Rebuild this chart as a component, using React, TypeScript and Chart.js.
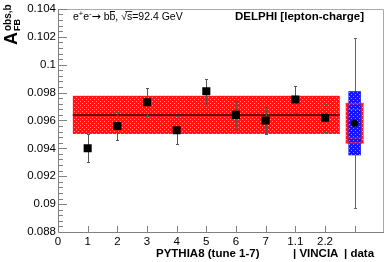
import React, { useEffect, useRef } from "react";
import { Chart, registerables } from "chart.js";
Chart.register(...registerables);

// ---- data ----
const mcPositions = [1, 2, 3, 4, 5, 6, 7, 8, 9];
const mcValues = [0.094, 0.0956, 0.0973, 0.0953, 0.0981, 0.0964, 0.096, 0.0975, 0.0962];
const mcErrors = [0.001, 0.001, 0.001, 0.001, 0.0009, 0.001, 0.001, 0.001, 0.001];
const xTickLabels = ["0", "1", "2", "3", "4", "5", "6", "7", "1.1", "2.2", "", ""];
const bandRange = [0.5, 9.5];
const bandCenter = 0.0964;
const bandHalf = 0.00137;
const dataPosition = 10;
const dataValue = 0.0958;
const dataTotalErr = 0.0061;
const dataBlueErr = 0.0023;
const dataRedErr = 0.00146;
const dataBlueHalfWidth = 0.21;
const dataRedHalfWidth = 0.3;
const yMin = 0.088;
const yMax = 0.104;
const yStep = 0.002;
const yMinorStep = 0.0004;
const xMin = 0;
const xMax = 11;

const FONT = '"Liberation Sans", Arial, Helvetica, sans-serif';

function makePattern(base: string, dot: string, kind: "red" | "blue") {
  const c = document.createElement("canvas");
  c.width = 4;
  c.height = 4;
  const g = c.getContext("2d")!;
  g.fillStyle = base;
  g.fillRect(0, 0, 4, 4);
  g.fillStyle = dot;
  if (kind === "red") {
    g.fillRect(0, 1, 1, 1);
    g.fillRect(2, 3, 1, 1);
  } else {
    g.fillRect(1, 0, 1, 1);
    g.fillRect(3, 2, 1, 1);
  }
  const ctx = document.createElement("canvas").getContext("2d")!;
  return ctx.createPattern(c, "repeat")!;
}

const decor = {
  id: "decor",
  beforeDatasetsDraw(chart: any) {
    const { ctx, scales } = chart;
    const x = scales.x;
    const y = scales.y;
    const redPat = makePattern("#ff1414", "rgba(255,150,150,1)", "red");
    const bluePat = makePattern("#1414ff", "rgba(140,140,255,1)", "blue");
    ctx.save();
    // data total error bar
    const dx = Math.round(x.getPixelForValue(dataPosition)) + 0.5;
    ctx.strokeStyle = "#666";
    ctx.lineWidth = 1;
    ctx.beginPath();
    const dt = y.getPixelForValue(dataValue + dataTotalErr);
    const db = y.getPixelForValue(dataValue - dataTotalErr);
    ctx.moveTo(dx, dt);
    ctx.lineTo(dx, db);
    ctx.moveTo(dx - 1.5, Math.round(dt) + 0.5);
    ctx.lineTo(dx + 1.5, Math.round(dt) + 0.5);
    ctx.moveTo(dx - 1.5, Math.round(db) + 0.5);
    ctx.lineTo(dx + 1.5, Math.round(db) + 0.5);
    ctx.stroke();

    // data red (inner) box
    const rx1 = x.getPixelForValue(dataPosition - dataRedHalfWidth);
    const rx2 = x.getPixelForValue(dataPosition + dataRedHalfWidth);
    const ry1 = y.getPixelForValue(dataValue + dataRedErr);
    const ry2 = y.getPixelForValue(dataValue - dataRedErr);
    ctx.fillStyle = redPat;
    ctx.fillRect(rx1, ry1, rx2 - rx1, ry2 - ry1);
    // data blue box
    const bx1 = x.getPixelForValue(dataPosition - dataBlueHalfWidth);
    const bx2 = x.getPixelForValue(dataPosition + dataBlueHalfWidth);
    const by1 = y.getPixelForValue(dataValue + dataBlueErr);
    const by2 = y.getPixelForValue(dataValue - dataBlueErr);
    ctx.fillStyle = bluePat;
    ctx.fillRect(bx1, by1, bx2 - bx1, by2 - by1);
    ctx.fillStyle = "rgba(255,40,40,0.7)";
    ctx.fillRect(rx1, ry1, rx2 - rx1, 1.5);
    ctx.fillRect(rx1, ry2 - 1.5, rx2 - rx1, 1.5);
    ctx.fillRect(bx1, y.getPixelForValue(dataValue + dataRedErr * 0.7), bx2 - bx1, 1);
    ctx.fillRect(bx1, y.getPixelForValue(dataValue - dataRedErr * 0.7), bx2 - bx1, 1);

    // MC band
    const mx1 = x.getPixelForValue(bandRange[0]);
    const mx2 = x.getPixelForValue(bandRange[1]);
    const my1 = y.getPixelForValue(bandCenter + bandHalf);
    const my2 = y.getPixelForValue(bandCenter - bandHalf);
    ctx.fillStyle = redPat;
    ctx.fillRect(mx1, my1, mx2 - mx1, my2 - my1);
    ctx.strokeStyle = "rgba(70,0,0,0.75)";
    ctx.lineWidth = 2;
    ctx.beginPath();
    const cy = Math.round(y.getPixelForValue(bandCenter));
    ctx.moveTo(mx1, cy);
    ctx.lineTo(mx2, cy);
    ctx.stroke();

    // MC error bars
    ctx.strokeStyle = "#555";
    ctx.lineWidth = 1;
    ctx.beginPath();
    mcPositions.forEach((p, i) => {
      const px = Math.round(x.getPixelForValue(p)) + 0.5;
      const t = Math.round(y.getPixelForValue(mcValues[i] + mcErrors[i])) + 0.5;
      const b = Math.round(y.getPixelForValue(mcValues[i] - mcErrors[i])) + 0.5;
      ctx.moveTo(px, t);
      ctx.lineTo(px, b);
      ctx.moveTo(px - 1.5, t);
      ctx.lineTo(px + 1.5, t);
      ctx.moveTo(px - 1.5, b);
      ctx.lineTo(px + 1.5, b);
    });
    ctx.stroke();
    ctx.restore();
  },
  afterDatasetsDraw(chart: any) {
    const { ctx, chartArea: a, scales } = chart;
    const x = scales.x;
    const y = scales.y;
    ctx.save();
    // frame
    ctx.strokeStyle = "#aaa";
    ctx.lineWidth = 1;
    ctx.beginPath();
    ctx.moveTo(Math.round(a.left) + 0.5, Math.round(a.top) + 0.5);
    ctx.lineTo(Math.round(a.right) - 0.5, Math.round(a.top) + 0.5);
    ctx.lineTo(Math.round(a.right) - 0.5, Math.round(a.bottom) + 0.5);
    ctx.stroke();
    // axes
    ctx.strokeStyle = "#808080";
    ctx.beginPath();
    ctx.moveTo(Math.round(a.left) + 0.5, Math.round(a.top));
    ctx.lineTo(Math.round(a.left) + 0.5, Math.round(a.bottom) + 0.5);
    ctx.lineTo(Math.round(a.right), Math.round(a.bottom) + 0.5);
    // y ticks (inward)
    const nMinor = Math.round((yMax - yMin) / yMinorStep);
    for (let i = 0; i <= nMinor; i++) {
      const v = yMin + i * yMinorStep;
      const major = i % Math.round(yStep / yMinorStep) === 0;
      const py = Math.round(y.getPixelForValue(v)) + 0.5;
      ctx.moveTo(Math.round(a.left) + 1, py);
      ctx.lineTo(Math.round(a.left) + 1 + (major ? 8 : 4), py);
    }
    // x ticks (inward)
    for (let v = xMin + 1; v < xMax; v++) {
      const px = Math.round(x.getPixelForValue(v)) + 0.5;
      ctx.moveTo(px, Math.round(a.bottom));
      ctx.lineTo(px, Math.round(a.bottom) - 6);
    }
    ctx.stroke();

    // top-left label
    ctx.fillStyle = "#000";
    ctx.textBaseline = "alphabetic";
    ctx.textAlign = "left";
    const base = 20;
    let cx = 73;
    const big = `10.5px ${FONT}`;
    const small = `7.5px ${FONT}`;
    const put = (s: string, font: string, dy = 0) => {
      ctx.font = font;
      ctx.fillText(s, cx, base + dy);
      const w = ctx.measureText(s).width;
      cx += w;
      return w;
    };
    put("e", big);
    put("+", small, -4);
    put("e", big);
    put("-", small, -4);
    put("\u2192", `11px "DejaVu Sans", ${FONT}`);
    put(" b", big);
    const bStart = cx;
    const bw = put("b", big);
    ctx.fillRect(bStart + 0.5, base - 9, bw - 1, 1);
    put(", ", big);
    const sqStart = cx;
    put("\u221A", big);
    const sStart = cx;
    const sw = put("s", big);
    ctx.fillRect(sqStart + 4, base - 9, sStart + sw - sqStart - 4, 0.8);
    put("=92.4 GeV", big);

    // DELPHI
    ctx.font = `bold 11.5px ${FONT}`;
    ctx.fillText("DELPHI [lepton-charge]", 235, 20);

    // x titles
    ctx.fillText("PYTHIA8 (tune 1-7)", 156, 257);
    ctx.fillText("| VINCIA", 293, 257);
    ctx.fillText("| data", 344, 257);

    // y title
    ctx.translate(17, 45);
    ctx.rotate(-Math.PI / 2);
    ctx.font = `bold 18px ${FONT}`;
    ctx.fillText("A", 0, 0);
    const aw = ctx.measureText("A").width;
    ctx.font = `bold 10px ${FONT}`;
    ctx.fillText("obs,b", aw + 1, -6);
    ctx.font = `bold 9px ${FONT}`;
    ctx.fillText("FB", aw + 1, 3);
    ctx.restore();
  },
};

export default function App() {
  const ref = useRef<HTMLCanvasElement | null>(null);
  useEffect(() => {
    document.body.style.margin = "0";
    const canvas = ref.current!;
    const chart = new Chart(canvas, {
      type: "scatter",
      data: {
        datasets: [
          {
            data: mcPositions.map((p, i) => ({ x: p, y: mcValues[i] })),
            pointStyle: "rect",
            pointRadius: 5.7,
            pointBackgroundColor: "#000",
            pointBorderWidth: 0,
            showLine: false,
          },
          {
            data: [{ x: dataPosition, y: dataValue }],
            pointStyle: "circle",
            pointRadius: 3.6,
            pointBackgroundColor: "#000",
            pointBorderWidth: 0,
            showLine: false,
          },
        ],
      },
      options: {
        responsive: false,
        animation: false,
        devicePixelRatio: 1,
        layout: { padding: { top: 5, right: 3, left: 0, bottom: 0 } },
        plugins: { legend: { display: false }, tooltip: { enabled: false } },
        scales: {
          x: {
            type: "linear",
            min: xMin,
            max: xMax,
            afterFit: (s: any) => {
              s.height = 30;
            },
            grid: { display: false, drawTicks: false },
            border: { display: false },
            ticks: {
              stepSize: 1,
              autoSkip: false,
              maxRotation: 0,
              padding: 3,
              color: "#000",
              font: { family: FONT, size: 11.5 },
              callback: (v: any) => xTickLabels[Math.round(Number(v))] ?? "",
            },
          },
          y: {
            type: "linear",
            min: yMin,
            max: yMax,
            afterFit: (s: any) => {
              s.width = 58;
            },
            grid: { display: false, drawTicks: false },
            border: { display: false },
            ticks: {
              stepSize: yStep,
              autoSkip: false,
              padding: 2,
              color: "#000",
              font: { family: FONT, size: 11.5 },
              callback: (v: any) => String(parseFloat(Number(v).toFixed(3))),
            },
          },
        },
      },
      plugins: [decor],
    } as any);
    return () => chart.destroy();
  }, []);
  return (
    <div style={{ width: 390, height: 262 }}>
      <canvas ref={ref} width={390} height={262} style={{ display: "block" }} />
    </div>
  );
}
